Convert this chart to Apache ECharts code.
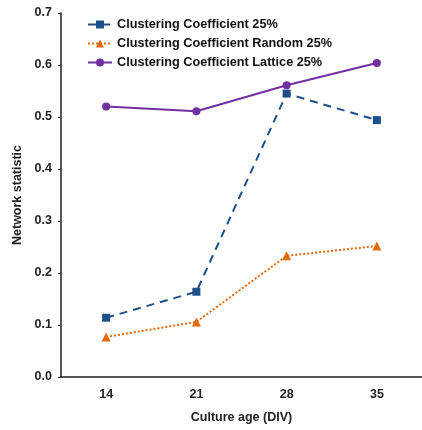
<!DOCTYPE html>
<html>
<head>
<meta charset="utf-8">
<script src="https://cdn.jsdelivr.net/npm/echarts@6/dist/echarts.min.js"></script>
<style>html,body{margin:0;padding:0;background:#fff;}#c{width:422px;height:430px;}</style>
</head>
<body>
<div id="c"></div>
<script>
const categories = ['14', '21', '28', '35'];
const ccValues = [0.114, 0.164, 0.545, 0.494];
const ccRandomValues = [0.077, 0.106, 0.233, 0.252];
const ccLatticeValues = [0.520, 0.511, 0.561, 0.604];
const yTicks = [0, 0.1, 0.2, 0.3, 0.4, 0.5, 0.6, 0.7];

const font = 'Liberation Sans, Arial, sans-serif';
const chart = echarts.init(document.getElementById('c'));
chart.setOption({
  animation: false,
  backgroundColor: '#fff',
  grid: { left: 61, top: 13, width: 368, height: 364 },
  legend: {
    orient: 'vertical', left: 87, top: 18, padding: 0, itemGap: 6, itemWidth: 24, itemHeight: 10,
    textStyle: { fontFamily: font, fontSize: 12.7, fontWeight: 'bold', color: '#111' },
    data: ['Clustering Coefficient 25%', 'Clustering Coefficient Random 25%', 'Clustering Coefficient Lattice 25%']
  },
  xAxis: {
    type: 'category', data: categories, boundaryGap: true,
    name: 'Culture age (DIV)', nameLocation: 'middle', nameGap: 34,
    nameTextStyle: { fontFamily: font, fontSize: 12.5, fontWeight: 'bold', color: '#222' },
    axisLine: { lineStyle: { color: '#222', width: 1.5 } },
    axisTick: { alignWithLabel: true, length: 3, lineStyle: { color: '#222' } },
    axisLabel: { fontFamily: font, fontSize: 12.5, fontWeight: 'bold', color: '#222', margin: 11 },
    splitLine: { show: false }
  },
  yAxis: {
    type: 'value', min: 0, max: 0.7, interval: 0.1,
    name: 'Network statistic', nameLocation: 'middle', nameGap: 30,
    nameTextStyle: { fontFamily: font, fontSize: 12.5, fontWeight: 'bold', color: '#222' },
    axisLine: { show: true, lineStyle: { color: '#222', width: 1.5 } },
    axisTick: { show: true, length: 3, lineStyle: { color: '#222' } },
    axisLabel: { fontFamily: font, fontSize: 12.5, fontWeight: 'bold', color: '#222', margin: 9,
      formatter: v => { const t = yTicks.find(x => Math.abs(x - v) < 1e-9); return (t !== undefined ? t : v).toFixed(1); } },
    splitLine: { show: false }
  },
  series: [
    {
      name: 'Clustering Coefficient 25%', type: 'line', data: ccValues,
      symbol: 'rect', symbolSize: 8, color: '#1f4f8a',
      lineStyle: { type: [8, 6], width: 2, color: '#1f4f8a' },
      itemStyle: { color: '#1f4f8a' }
    },
    {
      name: 'Clustering Coefficient Random 25%', type: 'line', data: ccRandomValues,
      symbol: 'triangle', symbolSize: 9, color: '#e26b0a',
      lineStyle: { type: [2, 2], width: 2, color: '#e26b0a' },
      itemStyle: { color: '#e26b0a' }
    },
    {
      name: 'Clustering Coefficient Lattice 25%', type: 'line', data: ccLatticeValues,
      symbol: 'circle', symbolSize: 8, color: '#7030a0',
      lineStyle: { type: 'solid', width: 2, color: '#7030a0' },
      itemStyle: { color: '#7030a0' }
    }
  ]
});
</script>
</body>
</html>
